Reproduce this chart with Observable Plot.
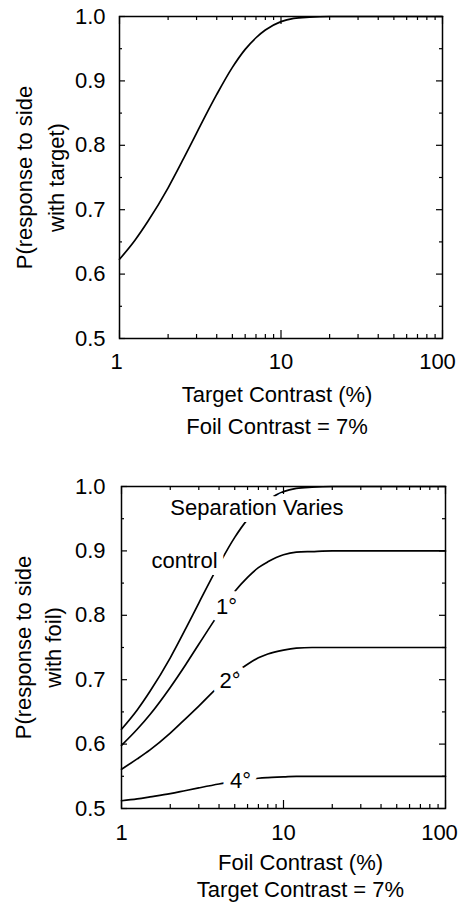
<!DOCTYPE html>
<html>
<head>
<meta charset="utf-8">
<script src="https://cdn.jsdelivr.net/npm/d3@7"></script>
<script src="https://cdn.jsdelivr.net/npm/@observablehq/plot@0.6"></script>
<style>
  html, body { margin: 0; padding: 0; background: #fff; }
  #chart { width: 458px; }
  #chart svg { display: block; }
</style>
</head>
<body>
<div id="chart"></div>
<script>
// Contrast levels (%) at which the psychometric curves are sampled
const contrast = [1, 1.25, 1.5, 2, 2.5, 3, 4, 5, 6, 7, 8, 10, 12, 15, 20, 30, 50, 100];

// Top panel: P(response to side with target), foil contrast fixed at 7%
const pTarget = [0.623, 0.653, 0.682, 0.734, 0.780, 0.819, 0.879, 0.921, 0.949, 0.967, 0.979, 0.992, 0.997, 0.999, 1.0, 1.0, 1.0, 1.0];

// Bottom panel: P(response to side with foil), target contrast fixed at 7%
const pControl = [0.623, 0.653, 0.682, 0.734, 0.780, 0.819, 0.879, 0.921, 0.949, 0.967, 0.979, 0.992, 0.997, 0.999, 1.0, 1.0, 1.0, 1.0];
const pSep1 = [0.598, 0.623, 0.646, 0.688, 0.724, 0.755, 0.803, 0.837, 0.859, 0.874, 0.883, 0.894, 0.898, 0.899, 0.9, 0.9, 0.9, 0.9];
const pSep2 = [0.561, 0.577, 0.591, 0.617, 0.640, 0.659, 0.690, 0.710, 0.724, 0.734, 0.740, 0.746, 0.749, 0.750, 0.75, 0.75, 0.75, 0.75];
const pSep4 = [0.512, 0.515, 0.518, 0.523, 0.528, 0.532, 0.538, 0.542, 0.545, 0.547, 0.548, 0.549, 0.550, 0.550, 0.55, 0.55, 0.55, 0.55];

// Curve labels in the bottom panel and where they sit (data coordinates)
const curveLabels = ["Separation Varies", "control", "1°", "2°", "4°"];
const labelContrast = [6.86, 2.45, 4.45, 4.67, 5.43];
const labelP = [0.966, 0.885, 0.813, 0.698, 0.543];

// Axis ticks
const xMajor = [1, 10, 100];
const xMinor = [2, 3, 4, 5, 6, 7, 8, 9, 20, 30, 40, 50, 60, 70, 80, 90];
const yMajor = [0.5, 0.6, 0.7, 0.8, 0.9, 1.0];
const yMinor = [0.55, 0.65, 0.75, 0.85, 0.95];
const yTickLabels = ["0.5", "0.6", "0.7", "0.8", "0.9", "1.0"];

const FONT = "'Liberation Sans', Arial, Helvetica, sans-serif";
const FS = 22;

function toRows(series) {
  return series.flatMap(([name, values]) =>
    contrast.map((c, i) => ({series: name, contrast: c, p: values[i]})));
}

// Inward ticks on all four sides of the frame
function frameTicks(majorLen, minorLen) {
  const t = [];
  for (const [vals, len] of [[xMajor, majorLen], [xMinor, minorLen]]) {
    t.push(Plot.ruleX(vals, {x: d => d, y1: 0.5, y2: 0.5, insetTop: -len, strokeWidth: 1.2}));
    t.push(Plot.ruleX(vals, {x: d => d, y1: 1.0, y2: 1.0, insetBottom: -len, strokeWidth: 1.2}));
  }
  for (const [vals, len] of [[yMajor, majorLen - 2], [yMinor, minorLen - 1]]) {
    t.push(Plot.ruleY(vals, {y: d => d, x1: 1, x2: 1, insetRight: -len, strokeWidth: 1.2}));
    t.push(Plot.ruleY(vals, {y: d => d, x1: 100, x2: 100, insetLeft: -len, strokeWidth: 1.2}));
  }
  return t;
}

function panel(opts) {
  const {series, height, marginTop, marginBottom, marginLeft, marginRight,
         yTitle, yTitleDx, yTitleLH, xTitle, xNote, xTitleDx, xTitleDy, xNoteDy,
         xTickPad, xTickDx, yTickPad, labels} = opts;
  const marks = [
    Plot.line(toRows(series), {x: "contrast", y: "p", z: "series", curve: "monotone-x",
      stroke: "black", strokeWidth: 1.7})
  ];
  if (labels) {
    marks.push(Plot.text(curveLabels, {
      x: (d, i) => labelContrast[i], y: (d, i) => labelP[i], text: d => d,
      fill: "black", stroke: "white", strokeWidth: 14, paintOrder: "stroke",
      fontSize: FS
    }));
  }
  marks.push(
    Plot.frame({stroke: "black", strokeWidth: 1.5}),
    ...frameTicks(8, 4),
    ...xMajor.map((v, i) => Plot.axisX([v], {anchor: "bottom", tickSize: 0, tickPadding: xTickPad,
      dx: xTickDx[i], tickFormat: d => String(d), fontSize: FS, label: null})),
    Plot.axisY(yMajor, {anchor: "left", tickSize: 0, tickPadding: yTickPad,
      tickFormat: (d, i) => yTickLabels[i], fontSize: FS, label: null}),
    Plot.text([yTitle], {frameAnchor: "left", textAnchor: "middle", rotate: -90, dx: yTitleDx,
      text: d => d, lineHeight: yTitleLH, fontSize: FS, fill: "black"}),
    Plot.text([xTitle], {frameAnchor: "bottom", lineAnchor: "top", dx: xTitleDx, dy: xTitleDy,
      text: d => d, fontSize: FS, fill: "black"}),
    Plot.text([xNote], {frameAnchor: "bottom", lineAnchor: "top", dx: xTitleDx, dy: xNoteDy,
      text: d => d, fontSize: FS, fill: "black"})
  );
  return Plot.plot({
    width: 458, height, marginTop, marginBottom, marginLeft, marginRight,
    style: {fontFamily: FONT, fontSize: FS + "px", color: "black", background: "white", overflow: "visible"},
    x: {type: "log", domain: [1, 100]},
    y: {domain: [0.5, 1.0]},
    marks
  });
}

const chart = document.getElementById("chart");

chart.appendChild(panel({
  series: [["target", pTarget]],
  height: 450, marginTop: 16, marginBottom: 112, marginLeft: 119, marginRight: 16,
  yTitle: "P(response to side\nwith target)", yTitleDx: -82, yTitleLH: 1.49,
  xTitle: "Target Contrast (%)", xNote: "Foil Contrast = 7%",
  xTitleDx: -4, xTitleDy: 48, xNoteDy: 80,
  xTickPad: 15, xTickDx: [-3, 0, -5], yTickPad: 14, labels: false
}));

chart.appendChild(panel({
  series: [["control", pControl], ["1°", pSep1], ["2°", pSep2], ["4°", pSep4]],
  height: 453, marginTop: 36, marginBottom: 95, marginLeft: 121, marginRight: 13,
  yTitle: "P(response to side\nwith foil)", yTitleDx: -85, yTitleLH: 1.35,
  xTitle: "Foil Contrast (%)", xNote: "Target Contrast = 7%",
  xTitleDx: 17, xTitleDy: 46, xNoteDy: 73,
  xTickPad: 16, xTickDx: [0, 0, -6], yTickPad: 16, labels: true
}));
</script>
</body>
</html>
